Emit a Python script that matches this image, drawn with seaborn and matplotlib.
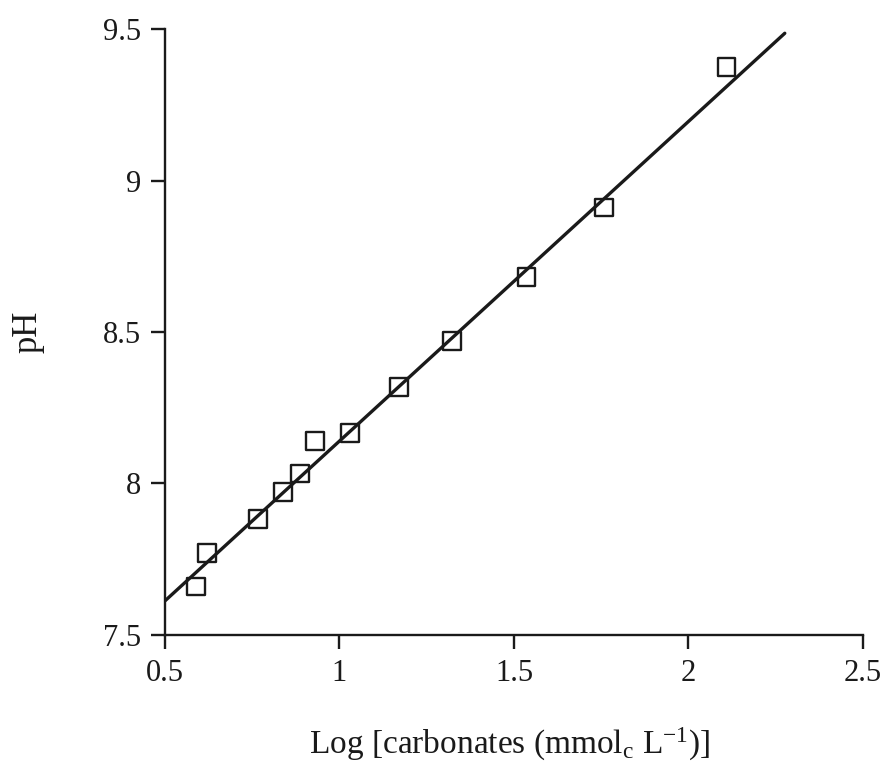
import matplotlib
matplotlib.use("Agg")
import matplotlib.pyplot as plt
import seaborn as sns
import numpy as np
import pandas as pd

# Data
log_carbonates = [0.589, 0.621, 0.767, 0.838, 0.887, 0.931, 1.031, 1.170, 1.323, 1.536, 1.759, 2.109]
ph_values = [7.660, 7.770, 7.882, 7.973, 8.033, 8.139, 8.167, 8.318, 8.470, 8.681, 8.911, 9.374]
fit_x = [0.50, 2.276]
fit_slope = 1.055
fit_intercept = 7.085
x_ticks = [0.5, 1, 1.5, 2, 2.5]
x_tick_labels = ["0.5", "1", "1.5", "2", "2.5"]
y_ticks = [7.5, 8, 8.5, 9, 9.5]
y_tick_labels = ["7.5", "8", "8.5", "9", "9.5"]

sns.set_style("ticks")
plt.rcParams['font.family'] = ['Liberation Serif', 'DejaVu Serif']
plt.rcParams['mathtext.fontset'] = 'custom'
plt.rcParams['mathtext.rm'] = 'Liberation Serif'
plt.rcParams['mathtext.it'] = 'Liberation Serif:italic'

df = pd.DataFrame({"x": log_carbonates, "y": ph_values})
fit_df = pd.DataFrame({"x": fit_x, "y": [fit_intercept + fit_slope * v for v in fit_x]})

fig = plt.figure(figsize=(8.86, 7.65), dpi=100)
ax = fig.add_axes([0.1862, 0.170, 0.7878, 0.792])

sns.lineplot(data=fit_df, x="x", y="y", ax=ax, color="#1a1a1a", linewidth=2.4, zorder=2)
sns.scatterplot(data=df, x="x", y="y", ax=ax, marker="s", s=165,
                facecolor="none", edgecolor="#1a1a1a", linewidth=1.7, zorder=3)

ax.set_xlim(0.5, 2.5)
ax.set_ylim(7.5, 9.5)
ax.set_xticks(x_ticks)
ax.set_xticklabels(x_tick_labels)
ax.set_yticks(y_ticks)
ax.set_yticklabels(y_tick_labels)

for s in ["top", "right"]:
    ax.spines[s].set_visible(False)
for s in ["left", "bottom"]:
    ax.spines[s].set_linewidth(1.7)
    ax.spines[s].set_color("#1a1a1a")

ax.tick_params(axis="both", direction="out", length=10, width=1.7, colors="#1a1a1a",
               labelsize=22, labelcolor="#1a1a1a", pad=7)

ax.set_xlabel(r"Log [carbonates (mmol$_\mathrm{c}$ L$^{\mathrm{-1}}$)]", fontsize=24,
              color="#1a1a1a")
ax.set_ylabel("pH", fontsize=25, color="#1a1a1a")
ax.xaxis.set_label_coords(0.494, -0.150)
ax.yaxis.set_label_coords(-0.172, 0.5)

fig.savefig("out.png", dpi=100, facecolor="white")
